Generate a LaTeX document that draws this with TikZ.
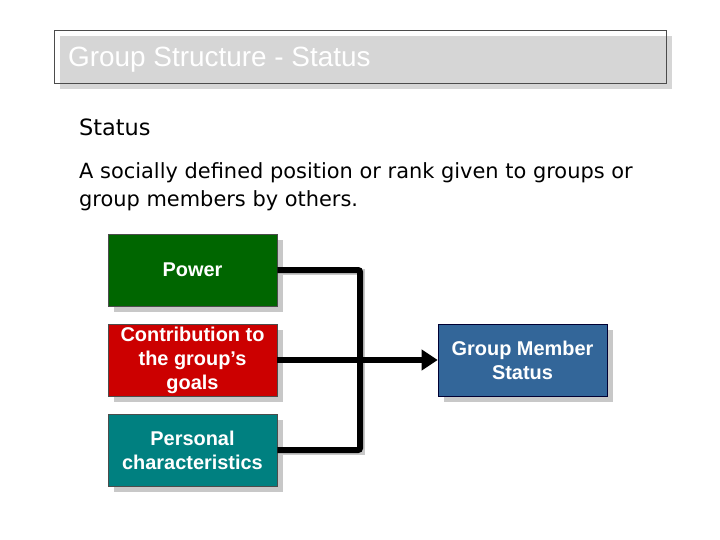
\documentclass[tikz,border=0pt]{standalone}
\usepackage{fontspec}
\setmainfont{Liberation Sans}
\newfontfamily\bodyfont{DejaVu Sans}
\usepackage{tikz}
\usetikzlibrary{arrows.meta}
\usetikzlibrary{shadows}
\definecolor{powergreen}{RGB}{0,102,0}
\definecolor{contribred}{RGB}{204,0,0}
\definecolor{personalteal}{RGB}{0,128,128}
\definecolor{memberblue}{RGB}{51,102,153}
\definecolor{shadowgray}{RGB}{200,200,200}
\definecolor{titlegray}{RGB}{214,214,214}
\tikzstyle{factornode}=[white, draw=black!70, line width=0.6pt, shape=rectangle, minimum width=169bp, minimum height=72bp, inner sep=2pt, align=center, font=\fontsize{20}{24}\selectfont\bfseries, drop shadow={shadow xshift=6bp, shadow yshift=-6bp, fill=shadowgray, opacity=1}]
\tikzstyle{linknode}=[black, line width=6bp, line cap=butt]

\begin{document}
\begin{tikzpicture}[x=1bp, y=-1bp]
\useasboundingbox (0,0) rectangle (720,540);
\node [fill=titlegray, minimum width=612bp, minimum height=53bp, inner sep=0pt] (titlefill) at (366,63) {};
\node [draw=black!70, line width=0.8pt, minimum width=612bp, minimum height=53bp, inner sep=0pt] (titleframe) at (360,57) {};
\node [white, anchor=base west, inner sep=0pt, font=\fontsize{28}{32}\selectfont] (title) at (68,67) {Group Structure - Status};

\node [anchor=base west, inner sep=0pt, font=\bodyfont\fontsize{22.5}{29}\selectfont] (heading) at (79,136) {Status};
\node [anchor=base west, inner sep=0pt, align=left, font=\bodyfont\fontsize{21}{29}\selectfont] (definition) at (79,207) {A socially defined position or rank given to groups or\\group members by others.};

\node [factornode, fill=powergreen] (power) at (192.5,270) {Power};
\node [factornode, fill=contribred] (contrib) at (192.5,360) {Contribution to\\the group’s\\goals};
\node [factornode, fill=personalteal] (personal) at (192.5,450) {Personal\\characteristics};
\node [factornode, fill=memberblue, draw=black!80!blue] (member) at (522.5,360) {Group Member\\Status};

\coordinate (spine) at (360,360);

\draw[linknode, shadowgray, line width=6bp] ([xshift=2bp, yshift=-2bp]power.east) -| ([xshift=2bp, yshift=-2bp]spine) |- ([xshift=2bp, yshift=-2bp]personal.east);
\draw[linknode, rounded corners=2bp] (power.east) -| (spine) |- (personal.east);
\draw[linknode, -{Triangle[length=16bp, width=20bp]}] (contrib.east) -- (member.west);
\end{tikzpicture}
\end{document}
